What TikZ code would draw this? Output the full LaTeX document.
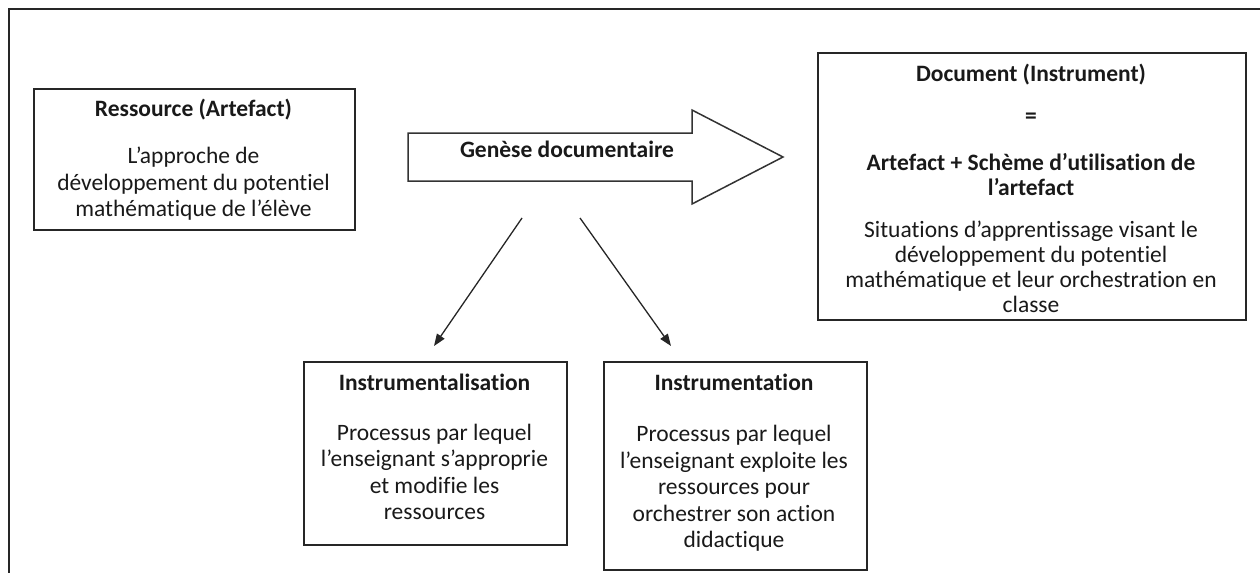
\documentclass[tikz,border=0pt]{standalone}
\usepackage{fontspec}
\setmainfont[Ligatures={NoCommon,NoContextual},Contextuals={NoAlternate}]{Carlito}
\usetikzlibrary{arrows.meta}
\begin{document}
\begin{tikzpicture}[x=1pt,y=-1pt,
  frame/.style={line width=1.6pt,draw=black!85},
  box/.style={draw=black!85,line width=1.5pt,rectangle,inner sep=0pt,anchor=north west},
  txt/.style={inner sep=0pt,align=center,text=black!90,font=\fontsize{23.5}{26.5}\selectfont},
  ttl/.style={txt,font=\fontsize{23.5}{26.5}\selectfont\bfseries},
  link/.style={line width=1.3pt,draw=black!85,-{Triangle[length=12pt,width=9pt]}}]
\useasboundingbox (0,0) rectangle (1260,573);
% page frame
\draw[frame] (1260,9) -- (9,9) -- (9,573);

% resource box
\node[box,minimum width=321pt,minimum height=141pt] (res) at (33,88) {};
\node[ttl] (resT) at (193.5,110) {Ressource (Artefact)};
\node[txt] (resB) at (193.5,184) {L’approche de\\développement du potentiel\\mathématique de l’élève};

% block arrow
\draw[line width=1.5pt,draw=black!80,fill=white]
  (408,133) -- (692,133) -- (692,110) -- (783,157) -- (692,204) -- (692,181) -- (408,181) -- cycle;
\node[ttl] (gen) at (567,149) {Genèse documentaire};

% document box
\node[box,minimum width=428pt,minimum height=267pt] (doc) at (817,52) {};
\node[ttl] (docT) at (1031,75) {Document (Instrument)};
\node[ttl] (docEq) at (1031,118) {=};
\node[ttl,font=\fontsize{23.5}{25}\selectfont\bfseries] (docF) at (1031,175) {Artefact + Schème d’utilisation de\\l’artefact};
\node[txt,font=\fontsize{23.5}{25}\selectfont] (docB) at (1031,267) {Situations d’apprentissage visant le\\développement du potentiel\\mathématique et leur orchestration en\\classe};

% instrumentalisation box
\node[box,minimum width=263pt,minimum height=183pt] (ilz) at (303,361) {};
\node[ttl] (ilzT) at (434.5,382) {Instrumentalisation};
\node[txt] (ilzB) at (434.5,472) {Processus par lequel\\l’enseignant s’approprie\\et modifie les\\ressources};

% instrumentation box
\node[box,minimum width=263pt,minimum height=208pt] (itn) at (603,361) {};
\node[ttl] (itnT) at (734,382) {Instrumentation};
\node[txt] (itnB) at (734,488.5) {Processus par lequel\\l’enseignant exploite les\\ressources pour\\orchestrer son action\\didactique};

% connectors
\coordinate (s1) at (522,218);
\coordinate (e1) at (434,346);
\coordinate (s2) at (580,218);
\coordinate (e2) at (671,346);
\draw[link] (s1) -- (e1);
\draw[link] (s2) -- (e2);
\end{tikzpicture}
\end{document}
